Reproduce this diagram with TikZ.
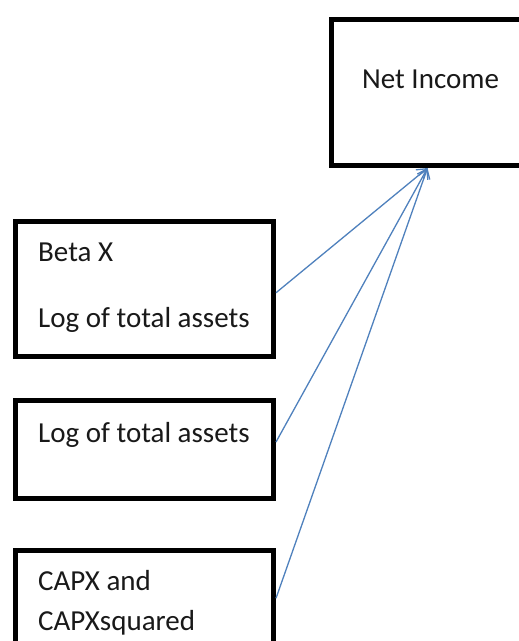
\documentclass[tikz,border=0pt]{standalone}
\usepackage{fontspec}
\setmainfont{Carlito}
\usetikzlibrary{arrows.meta}

\definecolor{linkblue}{RGB}{79,129,189}

\tikzset{
  box/.style={draw=black, line width=5bp, fill=white, rectangle, inner sep=0pt},
  lbl/.style={anchor=base west, inner sep=0pt, font=\fontsize{29bp}{34bp}\selectfont, text=black!90},
  link/.style={draw=linkblue, line width=1.3bp, -{Straight Barb[length=9bp,width=12bp,line width=1.3bp]}}
}

\begin{document}
\begin{tikzpicture}[x=1bp, y=-1bp]
  \useasboundingbox (0,0) rectangle (519,641);
  \clip (0,0) rectangle (519,641);
  \fill[white] (0,0) rectangle (519,641);

  % outcome box
  \node[box, minimum width=192bp, minimum height=146bp] (net) at (427.5,92.5) {};
  \node[lbl] (netlbl) at (362,89) {Net Income};

  % predictor boxes
  \node[box, minimum width=258bp, minimum height=134.5bp] (b1) at (144.5,288.75) {};
  \node[lbl] (b1a) at (38,261) {Beta X};
  \node[lbl] (b1b) at (38,327) {Log of total assets};

  \node[box, minimum width=258bp, minimum height=98bp] (b2) at (144.5,449) {};
  \node[lbl] (b2a) at (38,442) {Log of total assets};

  \node[box, minimum width=258bp, minimum height=139.5bp] (b3) at (144.5,620.25) {};
  \node[lbl] (b3a) at (38,590) {CAPX and};
  \node[lbl] (b3b) at (38,630) {CAPXsquared};

  % connectors into the outcome
  \draw[link] ([yshift=-4bp]b1.east) -- (net.south);
  \draw[link] ([yshift=7bp]b2.east) -- (net.south);
  \draw[link] ([yshift=22bp]b3.east) -- (net.south);
\end{tikzpicture}
\end{document}
